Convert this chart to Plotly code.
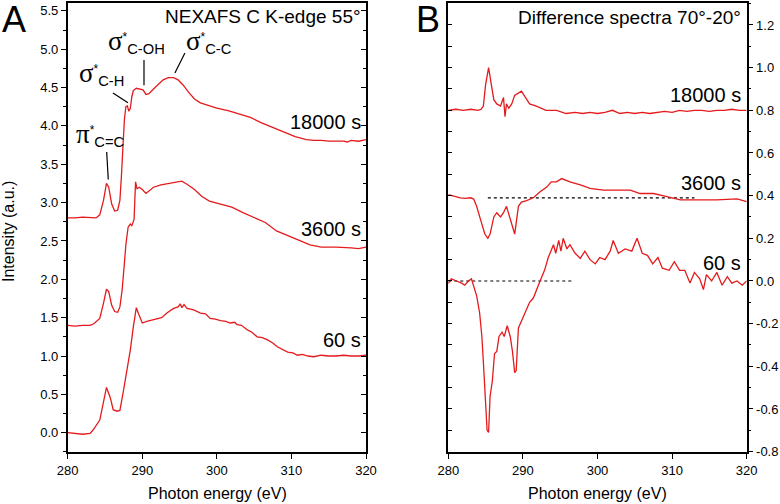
import plotly.graph_objects as go

# ---------------- data ----------------
# Panel A: NEXAFS C K-edge 55 deg, offset spectra
E_A18000 = [280, 281, 282, 283, 283.8, 284.3, 284.8, 285.2, 285.5, 285.9,
            286.3, 286.7, 287.0, 287.2, 287.4, 287.6, 287.8, 288.0, 288.2, 288.4,
            288.6, 288.8, 289.2, 289.7, 290.1, 290.5, 290.9, 291.4, 292.0, 292.8,
            293.5, 294.2, 294.8, 295.5, 296.2, 297.0, 297.8, 298.9, 300.0, 301.5,
            303.0, 304.5, 306.0, 307.5, 309.0, 310.5, 312.0, 313.0, 314.0, 315.0,
            316.0, 317.0, 317.5, 318.0, 319.0, 320.0]
I_A18000 = [2.80, 2.80, 2.81, 2.80, 2.80, 2.84, 3.03, 3.25, 3.20, 2.98,
            2.89, 2.90, 3.03, 3.34, 3.73, 4.08, 4.25, 4.26, 4.19, 4.23,
            4.38, 4.46, 4.49, 4.48, 4.47, 4.41, 4.42, 4.47, 4.53, 4.60,
            4.63, 4.63, 4.60, 4.53, 4.44, 4.35, 4.30, 4.26, 4.23, 4.20,
            4.16, 4.11, 4.04, 3.98, 3.91, 3.86, 3.82, 3.81, 3.81, 3.80,
            3.80, 3.80, 3.79, 3.81, 3.80, 3.82]

E_A3600 = [280, 281, 282, 283, 283.5, 284.3, 284.8, 285.2, 285.5, 285.9,
           286.3, 286.7, 287.0, 287.3, 287.6, 287.8, 288.1, 288.4, 288.6, 288.9,
           289.1, 289.3, 289.6, 290.0, 290.5, 291.0, 291.5, 292.5, 293.5, 294.5,
           295.3, 296.0, 297.0, 298.0, 299.0, 300.5, 302.0, 303.5, 305.0, 306.5,
           308.0, 309.5, 311.0, 312.5, 314.0, 316.0, 318.0, 319.0, 320.0]
I_A3600 = [1.40, 1.39, 1.40, 1.40, 1.42, 1.49, 1.69, 1.87, 1.84, 1.66,
           1.58, 1.57, 1.64, 1.86, 2.21, 2.45, 2.68, 2.72, 2.70, 2.78,
           3.27, 3.18, 3.20, 3.17, 3.12, 3.16, 3.20, 3.23, 3.25, 3.27,
           3.28, 3.24, 3.17, 3.08, 3.02, 2.98, 2.94, 2.87, 2.80, 2.74,
           2.63, 2.57, 2.51, 2.45, 2.42, 2.42, 2.41, 2.40, 2.42]

E_A60 = [280, 281, 282, 283, 283.4, 284.3, 284.8, 285.2, 285.7, 286.1,
         286.6, 287.0, 287.5, 287.9, 288.4, 288.8, 289.2, 289.5, 290.0, 290.6,
         291.3, 292.0, 292.6, 293.3, 294.2, 294.8, 295.1, 295.3, 295.6, 296.0,
         296.9, 297.8, 298.5, 299.1, 299.8, 300.5, 301.2, 301.8, 302.4, 302.7,
         303.3, 304.1, 304.7, 305.4, 306.1, 306.8, 307.5, 308.1, 308.8, 309.5,
         310.2, 310.8, 311.5, 312.2, 313.0, 314.0, 315.0, 316.0, 317.0, 318.0,
         319.0, 320.0]
I_A60 = [0.00, -0.01, -0.02, -0.01, 0.035, 0.165, 0.43, 0.59, 0.46, 0.30,
         0.28, 0.29, 0.56, 0.77, 1.08, 1.38, 1.63, 1.55, 1.43, 1.45,
         1.47, 1.49, 1.50, 1.56, 1.62, 1.64, 1.68, 1.63, 1.67, 1.62,
         1.60, 1.56, 1.55, 1.49, 1.48, 1.46, 1.45, 1.43, 1.44, 1.41,
         1.40, 1.34, 1.31, 1.25, 1.24, 1.21, 1.17, 1.12, 1.09, 1.05,
         1.04, 1.01, 1.02, 1.00, 0.99, 1.01, 1.00, 1.00, 1.01, 1.00,
         1.00, 1.01]

# Panel B: difference spectra 70 deg - 20 deg
E_B18000 = [280, 281, 282, 283, 284, 284.4, 284.7, 285.0, 285.4, 285.7,
            286.1, 286.5, 287.0, 287.4, 287.6, 287.8, 288.1, 288.5, 288.9, 289.8,
            290.2, 290.9, 291.8, 293.1, 294.5, 295.8, 297, 298, 299, 300,
            301, 302, 303, 304, 305, 306, 307, 308, 309, 310,
            311, 312, 313, 314, 315, 316, 317, 318, 319, 320]
D_B18000 = [0.80, 0.805, 0.80, 0.805, 0.80, 0.805, 0.82, 0.92, 1.00, 0.94,
            0.85, 0.83, 0.82, 0.86, 0.77, 0.83, 0.81, 0.83, 0.87, 0.89,
            0.87, 0.83, 0.82, 0.80, 0.80, 0.785, 0.79, 0.785, 0.79, 0.785,
            0.79, 0.80, 0.785, 0.79, 0.785, 0.79, 0.785, 0.79, 0.795, 0.79,
            0.80, 0.795, 0.80, 0.80, 0.795, 0.80, 0.80, 0.805, 0.80, 0.80]

E_B3600 = [280, 280.9, 281.6, 282.3, 283.0, 283.4, 283.8, 284.3, 284.9, 285.3,
           285.6, 286.1, 286.5, 287.0, 287.4, 287.8, 288.3, 288.9, 289.4, 289.8,
           290.5, 291.4, 292.3, 293.2, 293.8, 294.5, 295.2, 296.3, 297.7, 299.0,
           300.8, 302.6, 304.4, 305.7, 307.5, 309.3, 311.1, 313.3, 316.0, 318.7,
           320]
D_B3600 = [0.405, 0.395, 0.39, 0.387, 0.39, 0.384, 0.35, 0.29, 0.22, 0.20,
           0.22, 0.30, 0.32, 0.30, 0.32, 0.35, 0.29, 0.22, 0.35, 0.37,
           0.377, 0.39, 0.418, 0.44, 0.465, 0.465, 0.48, 0.465, 0.45, 0.434,
           0.426, 0.426, 0.426, 0.41, 0.41, 0.395, 0.38, 0.38, 0.38, 0.385,
           0.372]

E_B60 = [280, 280.4, 281.1, 281.8, 282.2, 282.7, 283.1, 283.4, 283.8, 284.2,
         284.5, 284.7, 284.9, 285.2, 285.4, 285.6, 285.9, 286.2, 286.5, 286.8,
         287.2, 287.5, 287.9, 288.3, 288.6, 288.9, 289.1, 289.4, 289.9, 290.3,
         290.9, 291.4, 291.9, 292.3, 292.9, 293.4, 294.1, 294.4, 294.8, 295.1,
         295.4, 295.9, 296.3, 297.0, 297.7, 298.3, 299.0, 299.7, 300.3, 301.0,
         301.7, 302.1, 302.8, 303.7, 304.6, 305.3, 306.0, 306.7, 307.4, 308.1,
         308.7, 309.6, 310.3, 311.0, 311.7, 312.4, 313.0, 313.7, 314.2, 314.6,
         315.3, 316.0, 316.7, 317.4, 318.0, 318.7, 319.4, 320]
D_B60 = [-0.011, 0.01, 0.0, -0.01, -0.02, 0.0, 0.01, -0.02, -0.07, -0.15,
         -0.26, -0.38, -0.52, -0.70, -0.71, -0.54, -0.47, -0.34, -0.33, -0.26,
         -0.24, -0.26, -0.21, -0.26, -0.33, -0.43, -0.42, -0.22, -0.18, -0.15,
         -0.10, -0.08, -0.04, 0.0, 0.05, 0.11, 0.17, 0.13, 0.19, 0.14,
         0.20, 0.15, 0.17, 0.13, 0.106, 0.14, 0.10, 0.08, 0.11, 0.10,
         0.14, 0.19, 0.13, 0.15, 0.14, 0.20, 0.13, 0.12, 0.08, 0.11,
         0.06, 0.05, 0.09, 0.05, 0.05, -0.01, 0.04, 0.01, -0.04, 0.03,
         0.0, 0.04, -0.02, 0.02, -0.01, 0.0, -0.02, 0.0]

# Dotted reference baselines in panel B: (start E, end E, level)
BASE_3600 = [285.3, 313.0, 0.39]
BASE_60 = [280.0, 296.8, 0.0]

# Ticks
X_TICKS = [280, 290, 300, 310, 320]
X_LABELS = ["280", "290", "300", "310", "320"]
YA_TICKS = [0.0, 0.5, 1.0, 1.5, 2.0, 2.5, 3.0, 3.5, 4.0, 4.5, 5.0, 5.5]
YA_LABELS = ["0.0", "0.5", "1.0", "1.5", "2.0", "2.5", "3.0", "3.5", "4.0", "4.5", "5.0", "5.5"]
YA_MINOR = [-0.25, 0.25, 0.75, 1.25, 1.75, 2.25, 2.75, 3.25, 3.75, 4.25, 4.75, 5.25]
YB_TICKS = [-0.8, -0.6, -0.4, -0.2, 0.0, 0.2, 0.4, 0.6, 0.8, 1.0, 1.2]
YB_LABELS = ["-0.8", "-0.6", "-0.4", "-0.2", "0.0", "0.2", "0.4", "0.6", "0.8", "1.0", "1.2"]
YB_MINOR = [-0.7, -0.5, -0.3, -0.1, 0.1, 0.3, 0.5, 0.7, 0.9, 1.1, 1.3]

# ---------------- figure ----------------
W, H = 780, 504
RED = "#e41a1c"
FONT = "Arial, Liberation Sans, sans-serif"

def px(x):
    return x / W

def py(y):
    return 1 - y / H

fig = go.Figure()
line = dict(color=RED, width=1.3)
for xs, ys in [(E_A18000, I_A18000), (E_A3600, I_A3600), (E_A60, I_A60)]:
    fig.add_trace(go.Scatter(x=xs, y=ys, mode="lines", line=line, xaxis="x", yaxis="y",
                             showlegend=False, hoverinfo="skip"))
for xs, ys in [(E_B18000, D_B18000), (E_B3600, D_B3600), (E_B60, D_B60)]:
    fig.add_trace(go.Scatter(x=xs, y=ys, mode="lines", line=line, xaxis="x2", yaxis="y2",
                             showlegend=False, hoverinfo="skip"))
# empty traces to activate mirror-tick axes
fig.add_trace(go.Scatter(x=[], y=[], xaxis="x", yaxis="y3", showlegend=False))
fig.add_trace(go.Scatter(x=[], y=[], xaxis="x2", yaxis="y4", showlegend=False))

# dotted baselines
for (x0, x1, lvl) in [BASE_3600, BASE_60]:
    fig.add_shape(type="line", xref="x2", yref="y2", x0=x0, x1=x1, y0=lvl, y1=lvl,
                  line=dict(color="black", width=1.2, dash="dot"), layer="below")

XD_A = [px(67.7), px(366.0)]
XD_B = [px(448.3), px(746.7)]
YD = [py(452.3), py(3.0)]
YR_A = [-0.2555, 5.602]
YR_B = [-0.803, 1.303]

tickfont = dict(family=FONT, size=13, color="black")
axis_common = dict(showline=True, linecolor="black", linewidth=1.5, showgrid=False,
                   zeroline=False, tickcolor="black", tickwidth=1.2, tickfont=tickfont,
                   automargin=False)

fig.update_layout(
    width=W, height=H, margin=dict(l=0, r=0, t=0, b=0),
    paper_bgcolor="white", plot_bgcolor="white",
    font=dict(family=FONT, color="black"),
    xaxis=dict(domain=XD_A, range=[280, 320], anchor="y", mirror=True, ticks="outside",
               ticklen=5, tickmode="array", tickvals=X_TICKS, ticktext=X_LABELS,
               **axis_common),
    yaxis=dict(domain=YD, range=YR_A, anchor="x", mirror=True, ticks="outside", ticklen=5,
               tickmode="array", tickvals=YA_TICKS, ticktext=YA_LABELS,
               minor=dict(tickmode="array", tickvals=YA_MINOR, ticks="outside", ticklen=3,
                          tickcolor="black"),
               **axis_common),
    yaxis3=dict(overlaying="y", side="right", anchor="x", range=YR_A, ticks="inside",
                ticklen=5, tickcolor="black", tickwidth=1.2, tickmode="array", tickvals=YA_TICKS,
                minor=dict(tickmode="array", tickvals=YA_MINOR, ticks="inside", ticklen=3,
                           tickcolor="black"),
                showticklabels=False, showgrid=False, zeroline=False, showline=False,
                automargin=False),
    xaxis2=dict(domain=XD_B, range=[280, 320], anchor="y2", mirror=True, ticks="outside",
                ticklen=5, tickmode="array", tickvals=X_TICKS, ticktext=X_LABELS,
                **axis_common),
    yaxis2=dict(domain=YD, range=YR_B, anchor="x2", side="right", mirror=True, ticks="outside",
                ticklen=5, tickmode="array", tickvals=YB_TICKS, ticktext=YB_LABELS,
                minor=dict(tickmode="array", tickvals=YB_MINOR, ticks="outside", ticklen=3,
                           tickcolor="black"),
                **axis_common),
    yaxis4=dict(overlaying="y2", side="left", anchor="x2", range=YR_B, ticks="inside",
                ticklen=4, tickcolor="black", tickwidth=1.2, tickmode="array", tickvals=YB_TICKS,
                minor=dict(tickmode="array", tickvals=YB_MINOR, ticks="inside", ticklen=4,
                           tickcolor="black"),
                showticklabels=False, showgrid=False, zeroline=False, showline=False,
                automargin=False),
)

ann = []
def text(x, y, s, size, xanchor="left", yanchor="middle", angle=0):
    ann.append(dict(x=px(x), y=py(y), xref="paper", yref="paper", text=s, showarrow=False,
                    xanchor=xanchor, yanchor=yanchor, textangle=angle,
                    font=dict(size=size, family=FONT, color="black")))

# axis titles
text(217, 493, "Photon energy (eV)", 16, xanchor="center")
text(597, 493, "Photon energy (eV)", 16, xanchor="center")
text(9, 232, "Intensity (a.u.)", 16, xanchor="center", angle=-90)

# panel letters & headers
text(0, 20, "A", 36)
text(414, 20, "B", 36)
text(363, 17, "NEXAFS C K-edge 55°", 19, xanchor="right")
text(743, 18, "Difference spectra 70°-20°", 19, xanchor="right")
# curve labels
text(363, 122, "18000 s", 20, xanchor="right")
text(363, 229, "3600 s", 20, xanchor="right")
text(363, 340, "60 s", 20, xanchor="right")
text(743, 95, "18000 s", 20, xanchor="right")
text(743, 183, "3600 s", 20, xanchor="right")
text(743, 263, "60 s", 20, xanchor="right")

# peak assignments
SIG = '<span style="font-family:Liberation Serif, Times New Roman, serif;font-size:27px">σ</span>'
PI = '<span style="font-family:Liberation Serif, Times New Roman, serif;font-size:27px">π</span>'
STAR = '<sup><span style="font-size:12px">*</span></sup>'
text(74, 135, PI + STAR + "<sub>C=C</sub>", 21)
text(77, 73, SIG + STAR + "<sub>C-H</sub>", 21)
text(106, 41, SIG + STAR + "<sub>C-OH</sub>", 21)
text(184, 41, SIG + STAR + "<sub>C-C</sub>", 21)
fig.update_layout(annotations=ann)

# pointer lines for assignments (data coordinates of panel A)
POINTERS = [(285.23, 3.66, 285.44, 3.30),
            (286.07, 4.43, 288.08, 4.30),
            (290.23, 4.86, 290.23, 4.53),
            (295.72, 4.95, 294.38, 4.69)]
for (x0, y0, x1, y1) in POINTERS:
    fig.add_shape(type="line", xref="x", yref="y", x0=x0, y0=y0, x1=x1, y1=y1,
                  line=dict(color="black", width=1.2))

# remove the browser's default 8px page margin so the figure sits at (0, 0)
fig.write_html("out.html", config={"displayModeBar": False},
               post_script="document.body.style.margin='0';")
